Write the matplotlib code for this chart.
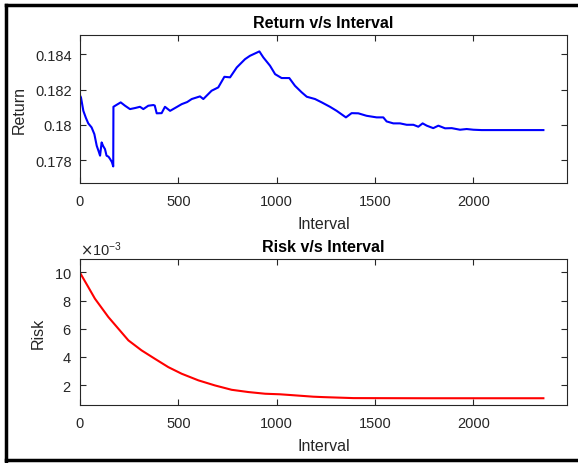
#!/usr/bin/env python
"""Return and risk against interval, two stacked panels."""
import matplotlib
matplotlib.use("Agg")
import matplotlib.pyplot as plt
from matplotlib.lines import Line2D
from matplotlib.ticker import FuncFormatter, ScalarFormatter

# values
ret_interval = [1, 5, 17, 30, 42, 59, 73, 85, 95, 102, 110, 118, 127, 135, 145, 153,
                162, 169, 170, 186, 207, 229, 254, 280, 305, 322, 347, 373, 380, 390,
                415, 432, 458, 483, 517, 545, 568, 610, 627, 669, 703, 734, 763, 797,
                839, 864, 912, 932, 966, 992, 1025, 1064, 1093, 1127, 1153, 1195,
                1229, 1271, 1305, 1352, 1381, 1415, 1457, 1508, 1542, 1559, 1593,
                1627, 1661, 1695, 1720, 1742, 1763, 1796, 1822, 1856, 1890, 1932,
                1966, 2000, 2042, 2200, 2356]
ret_value = [0.18165, 0.18156, 0.18080, 0.18040, 0.18009, 0.17986, 0.17948, 0.17882,
             0.17850, 0.17826, 0.17901, 0.17880, 0.17863, 0.17826, 0.17820, 0.17807,
             0.17790, 0.17765, 0.18103, 0.18114, 0.18128, 0.18109, 0.18090, 0.18096,
             0.18103, 0.18090, 0.18109, 0.18113, 0.18110, 0.18066, 0.18067, 0.18103,
             0.18080, 0.18096, 0.18118, 0.18130, 0.18147, 0.18162, 0.18147, 0.18194,
             0.18213, 0.18273, 0.18270, 0.18326, 0.18373, 0.18392, 0.18417, 0.18383,
             0.18336, 0.18288, 0.18266, 0.18266, 0.18222, 0.18185, 0.18160, 0.18147,
             0.18128, 0.18103, 0.18080, 0.18043, 0.18067, 0.18066, 0.18052, 0.18043,
             0.18043, 0.18020, 0.18009, 0.18009, 0.18001, 0.18001, 0.17990, 0.18009,
             0.17996, 0.17982, 0.17996, 0.17981, 0.17982, 0.17973, 0.17977, 0.17973,
             0.17971, 0.17971, 0.17971]

risk_interval = [1, 42, 76, 144, 195, 246, 313, 381, 449, 517, 602, 686, 771, 856,
                 941, 1017, 1068, 1186, 1237, 1390, 1750, 2356]
risk_value = [9.95e-3, 8.96e-3, 8.13e-3, 6.83e-3, 6.00e-3, 5.17e-3, 4.46e-3, 3.86e-3,
              3.27e-3, 2.80e-3, 2.33e-3, 1.97e-3, 1.66e-3, 1.50e-3, 1.38e-3, 1.34e-3,
              1.29e-3, 1.17e-3, 1.14e-3, 1.07e-3, 1.06e-3, 1.06e-3]

ret_yticks = [0.178, 0.180, 0.182, 0.184]
xticks = [0, 500, 1000, 1500, 2000]
risk_yticks = [2e-3, 4e-3, 6e-3, 8e-3, 10e-3]

AX_COLOR = "#262626"

plt.rcParams.update({
    "font.family": ["Liberation Sans", "DejaVu Sans"],
    "font.size": 10.5,
    "axes.edgecolor": AX_COLOR,
    "axes.linewidth": 0.8,
    "xtick.color": AX_COLOR,
    "ytick.color": AX_COLOR,
    "xtick.direction": "in",
    "ytick.direction": "in",
    "xtick.top": True,
    "ytick.right": True,
    "xtick.major.size": 4,
    "ytick.major.size": 4,
    "axes.unicode_minus": False,
})

fig = plt.figure(figsize=(5.78, 4.64), dpi=100)
ax1 = fig.add_axes([80 / 578, 1 - 184 / 464, 487 / 578, 148 / 464])
ax2 = fig.add_axes([80 / 578, 1 - 406 / 464, 487 / 578, 146 / 464])

ax1.plot(ret_interval, ret_value, color="blue", linewidth=1.5)
ax1.set_xlim(0, 2476)
ax1.set_ylim(0.17671, 0.18510)
ax1.set_xticks(xticks)
ax1.set_yticks(ret_yticks)
ax1.yaxis.set_major_formatter(FuncFormatter(lambda v, p: f"{v:g}"))
ax1.set_title("Return v/s Interval", fontsize=11.5, fontweight="bold", pad=6)
ax1.set_xlabel("Interval", fontsize=11.5, color=AX_COLOR, labelpad=6)
ax1.set_ylabel("Return", fontsize=11.5, color=AX_COLOR, labelpad=6)

ax2.plot(risk_interval, risk_value, color="red", linewidth=1.5)
ax2.set_xlim(0, 2476)
ax2.set_ylim(0.58e-3, 10.95e-3)
ax2.set_xticks(xticks)
ax2.set_yticks(risk_yticks)
fmt = ScalarFormatter(useMathText=True)
fmt.set_powerlimits((-3, -3))  # force the x10^-3 multiplier
ax2.yaxis.set_major_formatter(fmt)
ax2.yaxis.get_offset_text().set_color(AX_COLOR)
ax2.set_title("Risk v/s Interval", fontsize=11.5, fontweight="bold", pad=6)
ax2.set_xlabel("Interval", fontsize=11.5, color=AX_COLOR, labelpad=6)
ax2.set_ylabel("Risk", fontsize=11.5, color=AX_COLOR, labelpad=6)

for ax in (ax1, ax2):
    ax.tick_params(axis="x", pad=8)
    ax.tick_params(axis="y", pad=6)

# thick black frame round the figure (right side cropped off in the original)
frame = [([6, 600], [458, 458]), ([6, 6], [2, 458]), ([6, 600], [3, 3])]
for xs, ys in frame:
    fig.add_artist(Line2D([x / 578 for x in xs], [y / 464 for y in ys],
                          transform=fig.transFigure, color="black", linewidth=2.5))

fig.savefig("out.png", dpi=100)
